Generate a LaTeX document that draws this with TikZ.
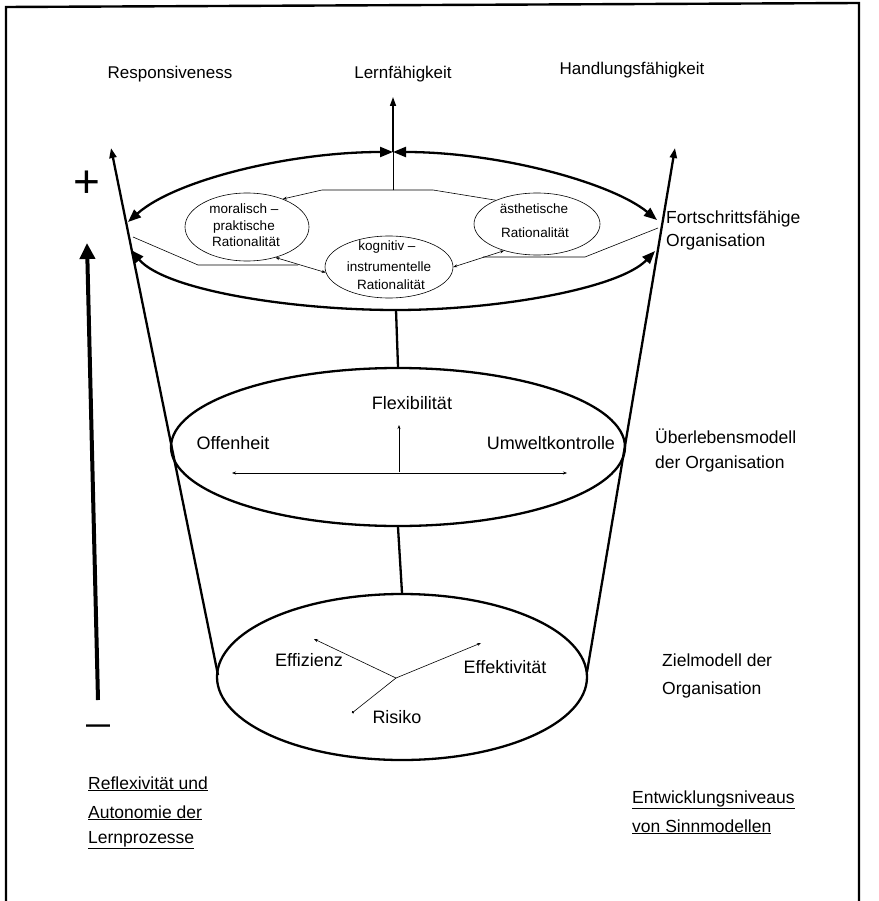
\documentclass[tikz,border=0pt]{standalone}
\usepackage{fontspec}
\setmainfont{Liberation Sans}
\usetikzlibrary{arrows.meta,shapes.geometric}
\begin{document}
\begin{tikzpicture}[x=1pt,y=-1pt,
  lab/.style={font=\fontsize{17}{20}\selectfont, inner sep=0pt, anchor=base},
  lableft/.style={font=\fontsize{17.5}{20}\selectfont, inner sep=0pt, anchor=base west},
  midlab/.style={font=\fontsize{18}{21}\selectfont, inner sep=0pt, anchor=base},
  smalltxt/.style={font=\fontsize{13.5}{16}\selectfont, inner sep=0pt, anchor=base},
  smallell/.style={ellipse, draw, line width=0.6pt, inner sep=0pt},
  bigell/.style={ellipse, draw, line width=2.3pt, inner sep=0pt},
  heavy/.style={line width=2.3pt},
  fineline/.style={line width=0.6pt},
  bigtip/.tip={Triangle[length=13pt,width=10pt]},
  conetip/.tip={Triangle[length=10pt,width=7pt]},
  tinytip/.tip={Stealth[length=4pt,width=3pt]},
]
\useasboundingbox (0,0) rectangle (878,901);
% frame
\draw[line width=2.4pt] (6,901) -- (6,7) -- (859,3) -- (859,901);

% top labels
\node[lab] (resp) at (170,79) {Responsiveness};
\node[lab] (lern) at (403,79) {Lernfähigkeit};
\node[lab] (hand) at (632,75) {Handlungsfähigkeit};

% plus / minus and thick arrow
\node[font=\fontsize{46}{46}\selectfont, inner sep=0pt] (plus) at (87,184) {+};
\node[font=\bfseries\fontsize{24}{24}\selectfont, inner sep=0pt] (minus) at (98,729) {—};
\coordinate (AB) at (98,700);
\coordinate (AT) at (87,243);
\draw[line width=4pt, -{Triangle[length=16pt,width=15pt]}] (AB) -- (AT);

% cone lines
\coordinate (CLt) at (111,148);
\coordinate (CLb) at (218,675);
\coordinate (CRt) at (675,148);
\coordinate (CRb) at (587,672);
\draw[heavy, -conetip] (CLb) -- (CLt);
\draw[heavy, -conetip] (CRb) -- (CRt);

% top ellipse made of arrows
\coordinate (LV1) at (128,222);
\coordinate (LV2) at (131,250);
\coordinate (TC) at (393,152);
\coordinate (RV1) at (657,220);
\coordinate (RV2) at (655,251);
\coordinate (TB) at (396,310);
\draw[heavy, bigtip-bigtip] (LV1) .. controls (175,180) and (290,152) .. (TC);
\draw[heavy, bigtip-bigtip] (TC) .. controls (500,152) and (612,183) .. (RV1);
\draw[heavy, bigtip-bigtip] (LV2) .. controls (165,290) and (290,310) .. (TB) .. controls (500,310) and (620,288) .. (RV2);

% centre arrow
\coordinate (PT) at (393,190);
\coordinate (LA) at (393,97);
\draw[fineline] (PT) -- (TC);
\draw[line width=1.6pt, -{Triangle[length=9pt,width=6pt]}] (TC) -- (LA);

% rationality ellipses
\node[smallell, minimum width=124pt, minimum height=68pt] (mor) at (247,227) {};
\node[smallell, minimum width=126pt, minimum height=62pt] (aes) at (537,224) {};
\node[smallell, minimum width=128pt, minimum height=62pt] (kog) at (389,267) {};
\node[smalltxt] (mor1) at (244,214) {moralisch –};
\node[smalltxt] (mor2) at (244,230) {praktische};
\node[smalltxt] (mor3) at (246,246) {Rationalität};
\node[smalltxt] (aes1) at (534,214) {ästhetische};
\node[smalltxt] (aes2) at (535,237) {Rationalität};
\node[smalltxt] (kog1) at (387,251) {kognitiv –};
\node[smalltxt] (kog2) at (389,271) {instrumentelle};
\node[smalltxt] (kog3) at (391,289) {Rationalität};

% connecting polygon
\coordinate (LV) at (133,237);
\coordinate (RV) at (658,228);
\draw[fineline, -tinytip] (PT) -- (322,190) -- (mor.38);
\draw[fineline] (PT) -- (433,190) -- (aes.150);
\draw[fineline] (LV) -- (198,265) -- (298,265);
\draw[fineline, tinytip-tinytip] (mor.-47) -- (kog.185);
\draw[fineline] (RV) -- (585,257) -- (483,257);
\draw[fineline, tinytip-tinytip] (kog.east) -- (aes.219);

% right labels
\node[lableft] (fort1) at (666,223) {Fortschrittsfähige};
\node[lableft] (fort2) at (666,247) {Organisation};
\node[lableft] (ueb1) at (655,443) {Überlebensmodell};
\node[lableft] (ueb2) at (655,468) {der Organisation};
\node[lableft] (ziel1) at (662,666) {Zielmodell der};
\node[lableft] (ziel2) at (662,694) {Organisation};

% middle ellipse
\node[bigell, minimum width=454pt, minimum height=158pt] (mid) at (398,447) {};
\draw[heavy] (TB) -- (mid.north);
\node[midlab] (flex) at (412,409) {Flexibilität};
\node[midlab] (off) at (233,449) {Offenheit};
\node[midlab] (umw) at (551,449) {Umweltkontrolle};
\coordinate (FX) at (399,472);
\coordinate (FXT) at (399,425);
\coordinate (HL) at (232,473);
\coordinate (HR) at (567,473);
\draw[fineline, -tinytip] (FX) -- (FXT);
\draw[fineline, tinytip-tinytip] (HL) -- (HR);

% bottom ellipse
\node[bigell, minimum width=370pt, minimum height=166pt] (bot) at (402,677) {};
\draw[heavy] (mid.south) -- (bot.north);
\node[midlab] (effz) at (309,666) {Effizienz};
\node[midlab] (effk) at (505,673) {Effektivität};
\node[midlab] (ris) at (397,723) {Risiko};
\coordinate (J) at (396,678);
\coordinate (JE) at (314,639);
\coordinate (JK) at (481,643);
\coordinate (JR) at (352,713);
\draw[fineline, -tinytip] (J) -- (JE);
\draw[fineline, -tinytip] (J) -- (JK);
\draw[fineline, -{Circle[length=2.5pt]}] (J) -- (JR);

% bottom labels
\node[lableft] (refl1) at (88,789) {\underline{Reflexivität und}};
\node[lableft] (refl2) at (88,818) {\underline{Autonomie der}};
\node[lableft] (refl3) at (88,843) {\underline{Lernprozesse}};
\node[lableft] (entw1) at (632,803) {\underline{Entwicklungsniveaus}};
\node[lableft] (entw2) at (632,832) {\underline{von Sinnmodellen}};
\end{tikzpicture}
\end{document}
